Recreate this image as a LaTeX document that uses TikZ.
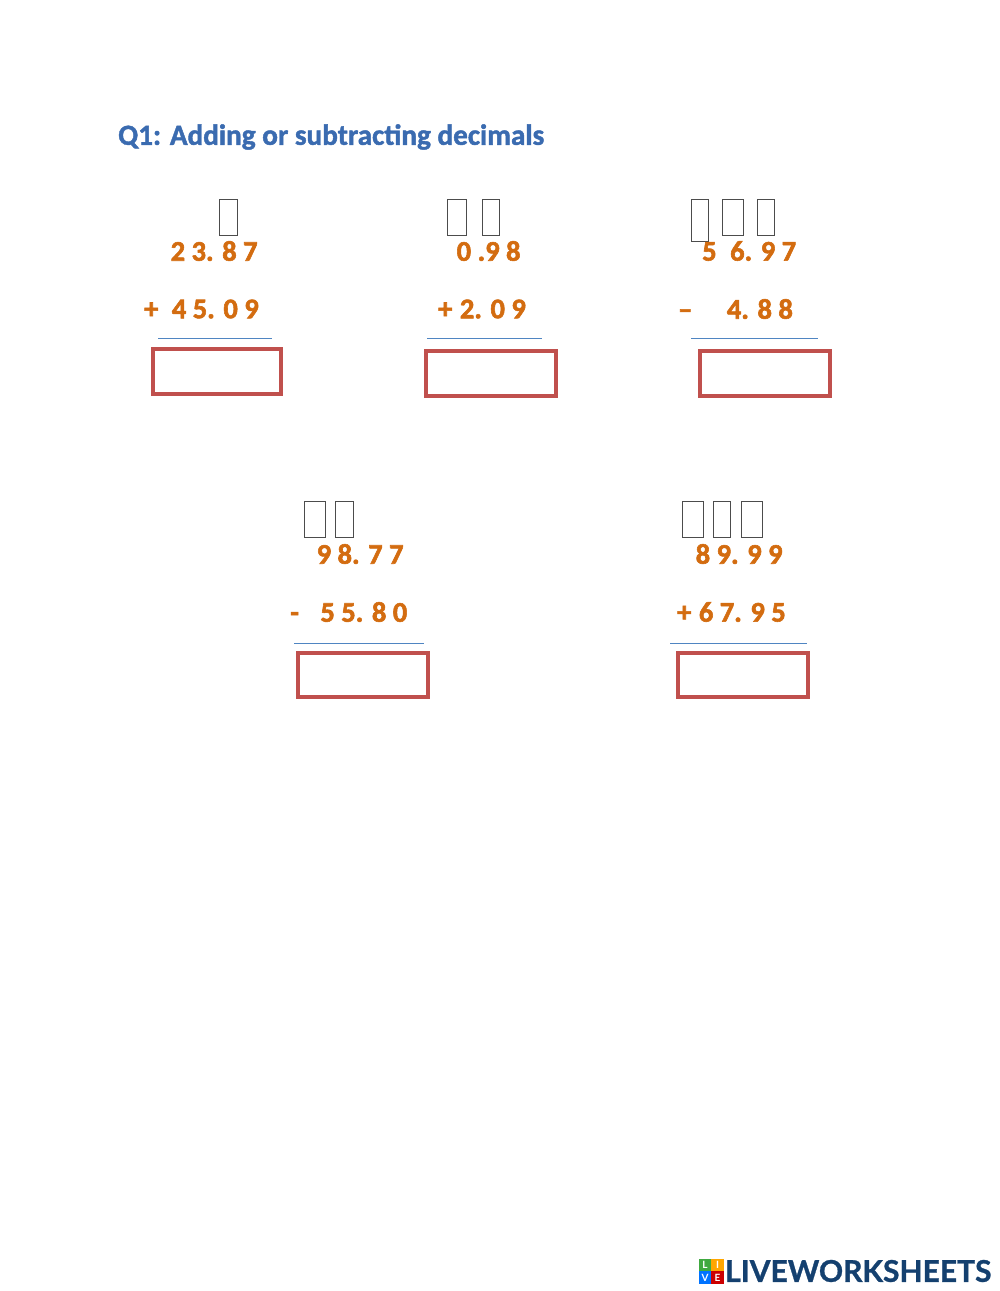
\documentclass[tikz,border=0pt]{standalone}
\usepackage{fontspec}
\setmainfont{Carlito}
\newfontfamily\logofont{Lato}
\usepackage{xcolor}
\definecolor{titleblue}{HTML}{3A6BB0}
\definecolor{digitorange}{HTML}{D36C10}
\definecolor{ruleblue}{HTML}{4F85C2}
\definecolor{boxred}{HTML}{C0504D}
\definecolor{logoblue}{HTML}{14406F}
\tikzset{
  sumtext/.style={anchor=west,inner sep=0pt,text=digitorange,font=\fontsize{28.5}{28.5}\selectfont\bfseries\addfontfeature{FakeBold=2}},
  answerbox/.style={draw=boxred,line width=4.5pt},
  tofubox/.style={draw=black!70,line width=1pt},
  sumrule/.style={ruleblue,line width=1.5pt},
  logocell/.style={minimum size=12.5pt,inner sep=0pt,text=white,font=\logofont\fontsize{10}{10}\selectfont\bfseries}
}
\begin{document}
\begin{tikzpicture}[x=1pt,y=-1pt]
  \useasboundingbox (0,0) rectangle (1000,1291);
  \fill[white] (0,0) rectangle (1000,1291);

  \node[anchor=west,inner sep=0pt,text=titleblue,font=\fontsize{29.2}{29.2}\selectfont\bfseries\addfontfeature{FakeBold=1.5}] (title) at (118,137) {Q1: Adding or subtracting decimals};

  % first row
  \draw[tofubox] (219,199) rectangle (237,235);
  \draw[tofubox] (447,199) rectangle (466,235);
  \draw[tofubox] (482,199) rectangle (499,235);
  \draw[tofubox] (691,199) rectangle (708,241);
  \draw[tofubox] (722,199) rectangle (743,235);
  \draw[tofubox] (757,199) rectangle (774,235);

  \node[sumtext] (a1) at (170.5,251) {2 3. 8 7};
  \node[sumtext] (a2) at (144,309) {+\hspace{13.5pt}4 5. 0 9};
  \node[sumtext] (b1) at (456.5,251) {0 .9 8};
  \node[sumtext] (b2) at (438,309) {+\hspace{7.5pt}2. 0 9};
  \node[sumtext] (c1) at (702,251) {5\hspace{13.5pt}6. 9 7};
  \node[sumtext] (c2) at (678,309) {–\hspace{34.5pt}4. 8 8};

  \draw[sumrule] (158,338.5) -- (272,338.5);
  \draw[sumrule] (427,338.5) -- (542,338.5);
  \draw[sumrule] (691,338.5) -- (818,338.5);

  \draw[answerbox] (153,349) rectangle (281,394);
  \draw[answerbox] (426,351) rectangle (556,396);
  \draw[answerbox] (700,351) rectangle (830,396);

  % second row
  \draw[tofubox] (304,501) rectangle (325,537);
  \draw[tofubox] (335,501) rectangle (353,537);
  \draw[tofubox] (682,501) rectangle (703,537);
  \draw[tofubox] (713,501) rectangle (730,537);
  \draw[tofubox] (741,501) rectangle (762,537);

  \node[sumtext] (d1) at (316.5,554) {9 8. 7 7};
  \node[sumtext] (d2) at (290,612) {-\hspace{21.5pt}5 5. 8 0};
  \node[sumtext] (e1) at (695.5,554) {8 9. 9 9};
  \node[sumtext] (e2) at (677,612) {+\hspace{7.5pt}6 7. 9 5};

  \draw[sumrule,line width=.9pt] (294,643) -- (424,643);
  \draw[sumrule,line width=.9pt] (670,643) -- (807,643);

  \draw[answerbox] (298,653) rectangle (428,697);
  \draw[answerbox] (678,653) rectangle (808,697);

  % logo
  \node[logocell,fill=green!55!black!75] (logoL) at (705,1265) {L};
  \node[logocell,fill=orange!70!yellow] (logoI) at (717.5,1265) {I};
  \node[logocell,fill=blue!55!cyan] (logoV) at (705,1277.5) {V};
  \node[logocell,fill=red!80!black] (logoE) at (717.5,1277.5) {E};
  \node[anchor=west,inner sep=0pt,text=logoblue,font=\logofont\fontsize{30}{30}\selectfont\bfseries\addfontfeature{FakeBold=1}] (logotext) at (725,1271) {LIVEWORKSHEETS};
\end{tikzpicture}
\end{document}
